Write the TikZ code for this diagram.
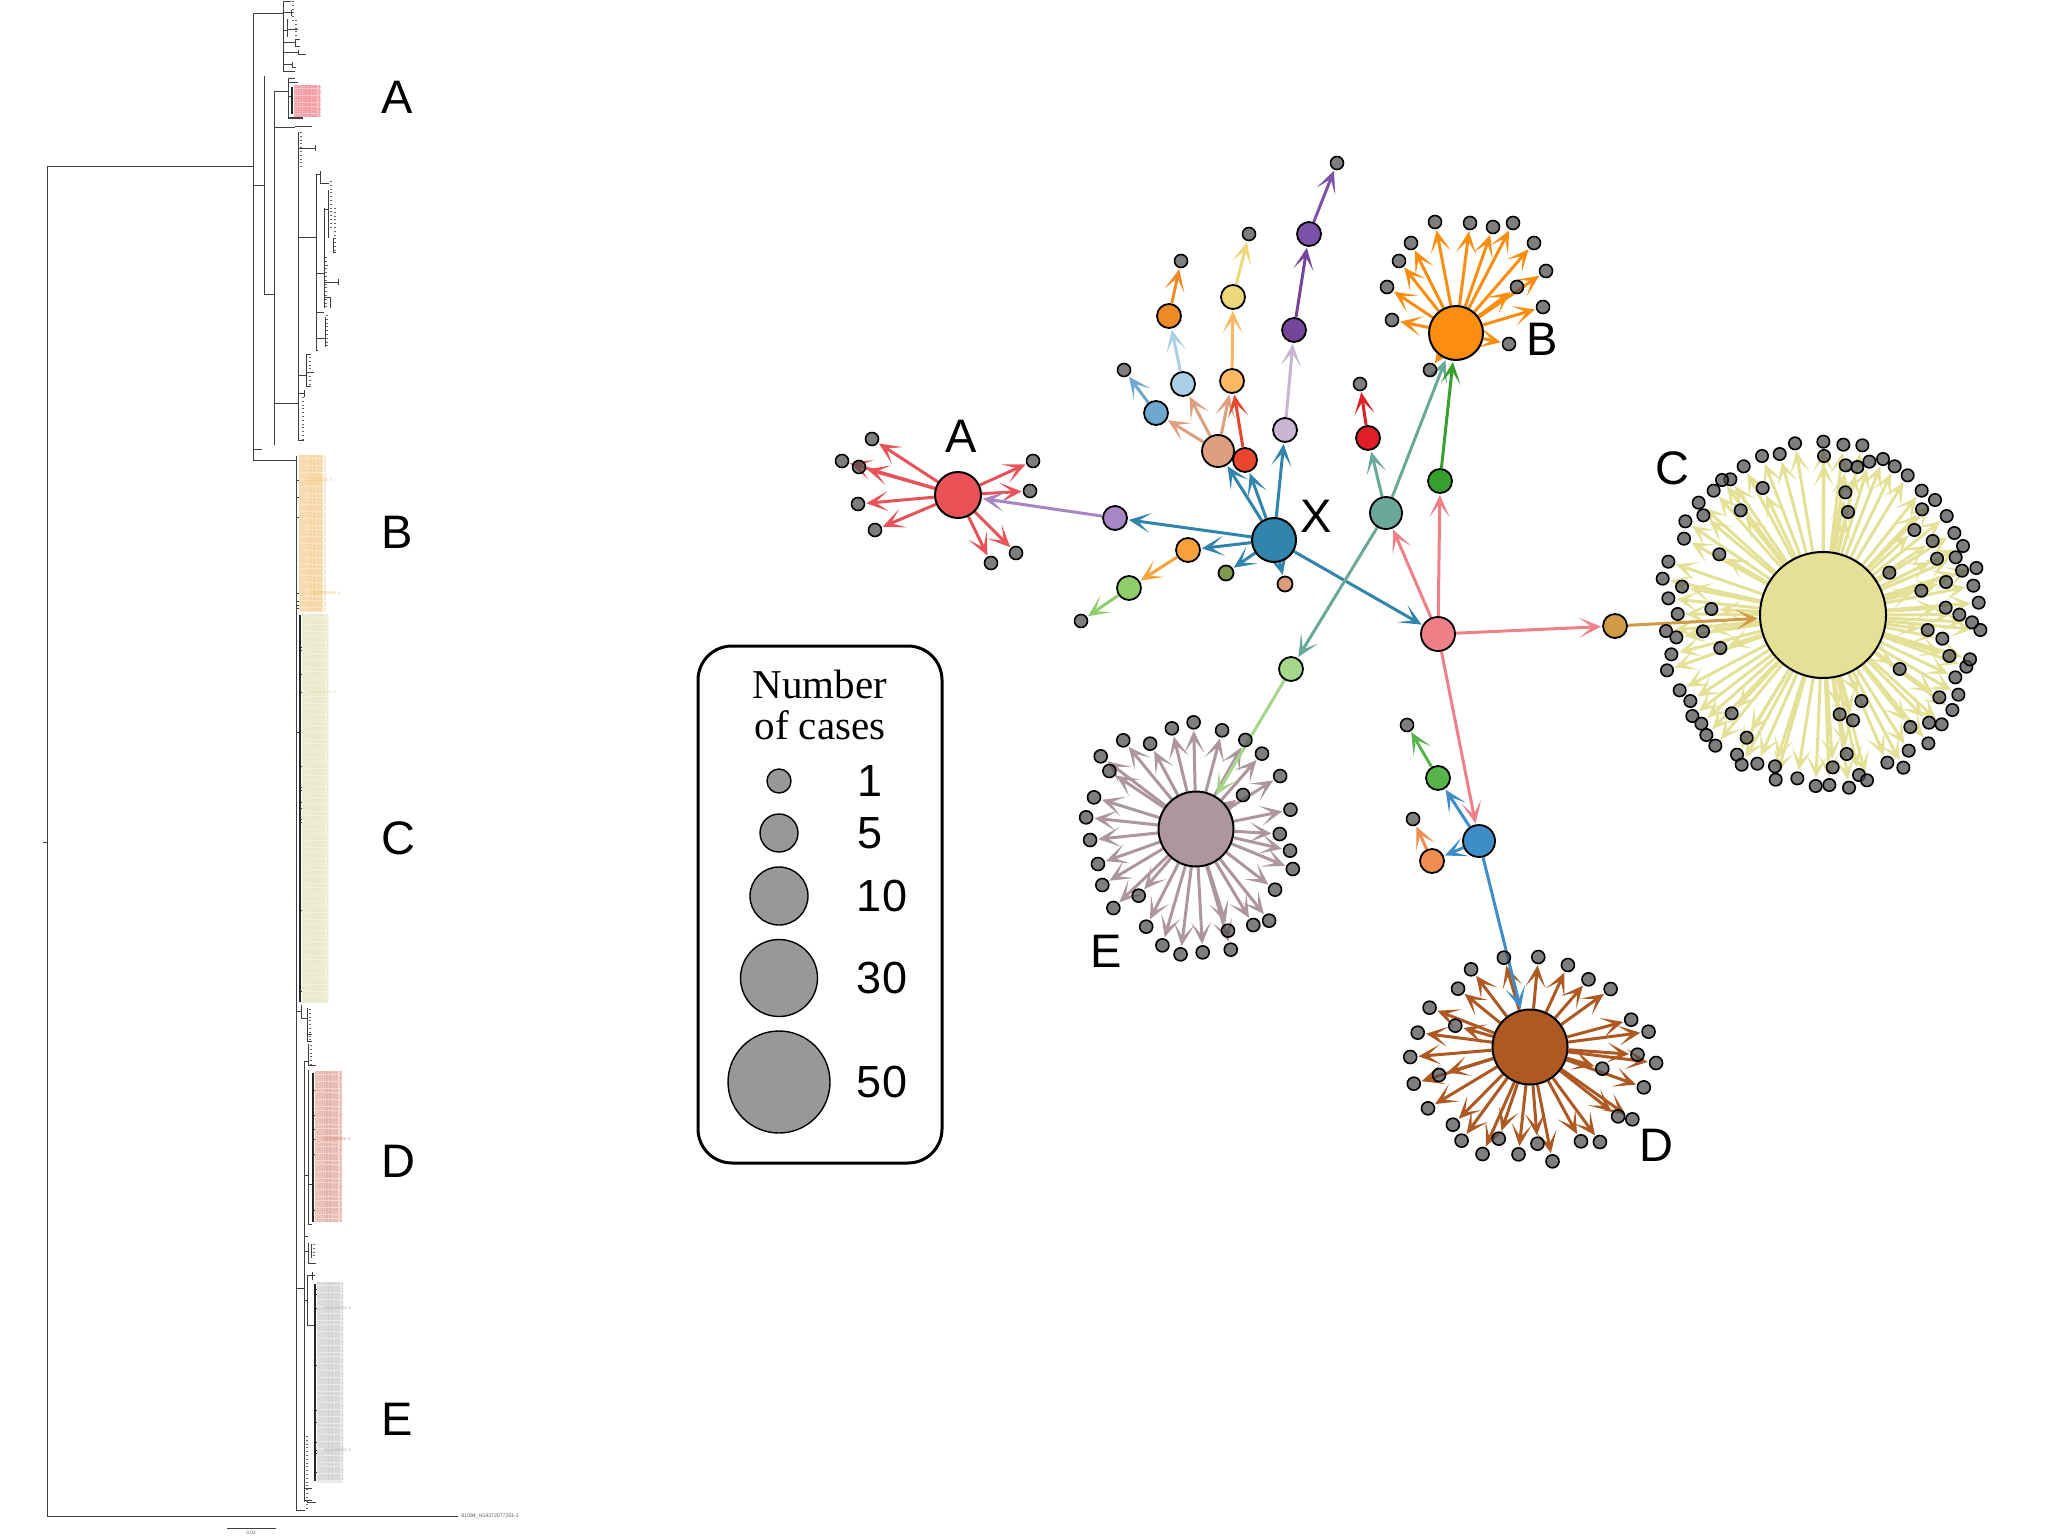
\documentclass[tikz,border=0pt]{standalone}
\usepackage{fontspec}
\setmainfont{Liberation Sans}
\newfontfamily\serifcap{Liberation Serif}
\usetikzlibrary{arrows.meta}
\pgfdeclarelayer{edges}
\pgfsetlayers{edges,main}
% hubs and single cases
\definecolor{hubA}{HTML}{E95358}
\definecolor{hubB}{HTML}{FB8D10}
\definecolor{hubC}{HTML}{E4E196}
\definecolor{hubD}{HTML}{AE5822}
\definecolor{hubE}{HTML}{AD979C}
\definecolor{hubX}{HTML}{3185AD}
\definecolor{cPurple}{HTML}{A686C4}
\definecolor{cOrange}{HTML}{F9A23C}
\definecolor{cLime}{HTML}{8ECE6B}
\definecolor{cOlive}{HTML}{7F9A4C}
\definecolor{cTan}{HTML}{DB9D7C}
\definecolor{cPeach}{HTML}{DE9F7F}
\definecolor{cRed}{HTML}{E8472E}
\definecolor{cLilac}{HTML}{C7B5D2}
\definecolor{cBlue}{HTML}{6EA8D0}
\definecolor{cSky}{HTML}{A9D0E6}
\definecolor{cApricot}{HTML}{FDB863}
\definecolor{cAmber}{HTML}{EF8A25}
\definecolor{cYellow}{HTML}{ECD77A}
\definecolor{cGrape}{HTML}{74459A}
\definecolor{cViolet}{HTML}{7C52A8}
\definecolor{cScarlet}{HTML}{E01F26}
\definecolor{cTeal}{HTML}{6AA99A}
\definecolor{cForest}{HTML}{35A02E}
\definecolor{cPink}{HTML}{F08088}
\definecolor{cMint}{HTML}{A6D68C}
\definecolor{cOchre}{HTML}{CF9B45}
\definecolor{cAzure}{HTML}{3F8DC8}
\definecolor{cGrass}{HTML}{57B34C}
\definecolor{cCoral}{HTML}{F08E52}
\definecolor{legGray}{HTML}{9A979A}
% tree label blocks
\definecolor{blkA}{HTML}{F9C3C8}
\definecolor{txtA}{HTML}{E8606A}
\definecolor{blkB}{HTML}{FBE6C6}
\definecolor{txtB}{HTML}{F4BC70}
\definecolor{blkC}{HTML}{F1F2DD}
\definecolor{txtC}{HTML}{DDDDB0}
\definecolor{blkD}{HTML}{F6D8D1}
\definecolor{txtD}{HTML}{CB8676}
\definecolor{blkE}{HTML}{EBEBEB}
\definecolor{txtE}{HTML}{B4B4B4}
\tikzset{
  casenode/.style 2 args={circle,draw=black,line width=0.9pt,inner sep=0pt,fill=#1,minimum size=#2pt},
  leaf/.style={circle,draw=black,line width=0.8pt,inner sep=0pt,fill=black!72,fill opacity=0.7,minimum size=6.5pt},
  legdot/.style={circle,draw=black,line width=0.7pt,inner sep=0pt,fill=legGray,minimum size=#1pt},
  edge/.style={draw=#1,line width=1.5pt,-{Stealth[length=11pt,width=10pt,inset=6.5pt]},shorten >=0.5pt},
  biglabel/.style={inner sep=0pt,font=\fontsize{23.5}{28}\selectfont},
  legnum/.style={inner sep=0pt,font=\fontsize{22.5}{27}\selectfont},
  branch/.style={draw=black!75,line width=0.5pt},
  tipdots/.style={draw=black!60,line width=0.6pt,dash pattern=on 0.5pt off 1.4pt},
  rowtxt/.style={anchor=west,inner sep=0pt,font=\fontsize{2.1}{2.5}\selectfont},
}
\begin{document}
\begin{tikzpicture}[x=0.5pt,y=-0.5pt]
  \useasboundingbox (0,0) rectangle (2048,1536);
  % tree: x / y from / y to
  \foreach \x/\ya/\yb in {47/166/1516, 253/14/460, 283/2/72, 291/10/16, 287/19/37, 295/40/47, 298/50/55, 292/62/68,
    264/76/294, 274/92/445, 288/79/118, 298/132/440, 315/145/151, 316/174/350, 320/171/183, 324/208/308, 328/190/238,
    333/238/252, 338/279/285, 330/297/308, 325/317/347, 306/354/386, 304/390/397, 296/456/1510, 301/1005/1018,
    307/1008/1041, 304/1061/1502, 308/1044/1065, 308/1070/1224, 308/1243/1263, 311/1244/1258, 307/1275/1325, 312/1272/1280}
    \draw[branch] (\x,\ya) -- (\x,\yb);
  % tree: y / x from / x to
  \foreach \y/\xa/\xb in {166/47/253, 1516/47/458, 842/43/47, 14/253/283, 2/283/291, 13/283/291, 31/283/287, 43/283/295,
    40/295/300, 47/295/300, 53/283/298, 55/298/306, 65/283/292, 68/292/296, 72/283/295, 30/287/298, 185/253/264, 294/264/274,
    92/274/288, 79/288/295, 83/288/298, 97/288/292, 118/288/303, 127/274/295, 126/295/312, 403/274/298, 148/298/315,
    237/298/316, 174/316/320, 183/320/329, 273/316/324, 209/324/328, 265/324/328, 282/324/338, 297/324/330, 252/333/336,
    312/316/324, 338/316/325, 350/316/318, 375/298/306, 354/306/311, 372/306/314, 386/306/311, 393/298/304, 440/298/304,
    449/253/262, 460/253/296, 480/296/305, 497/296/302, 517/296/302, 593/296/309, 601/296/304, 605/296/302, 608/296/301,
    732/296/300, 647/300/304, 650/300/304, 674/300/304, 692/300/309, 766/300/304, 787/300/309, 790/300/303, 802/300/304,
    808/300/304, 819/300/304, 822/300/304, 910/300/303, 991/300/304, 1011/296/301, 1018/301/307, 1034/307/312, 1041/307/312,
    1065/308/316, 1061/304/308, 1175/304/308, 1184/308/313, 1090/313/317, 1115/313/317, 1129/313/317, 1139/313/322, 1154/313/317,
    1210/313/317, 1224/308/312, 1236/304/308, 1251/304/308, 1263/308/316, 1288/296/304, 1300/304/307, 1275/307/315,
    1325/307/315, 1289/315/319, 1294/315/319, 1308/315/324, 1365/315/319, 1410/315/319, 1422/315/319, 1442/315/319,
    1450/315/324, 1453/315/319, 1472/315/319, 1488/304/312, 1500/304/312, 1502/307/316, 1510/296/305, 1528/227/276}
    \draw[branch] (\xa,\y) -- (\xb,\y);
  % thick stems beside the outbreak blocks
  \foreach \x/\ya/\yb in {292/87/114, 300/615/1002, 313/1073/1222, 315/1284/1481}
    \draw[branch,line width=0.8pt,draw=black!85] (\x,\ya) -- (\x,\yb);
  % unreadable tip labels
  \foreach \x/\ya/\yb in {293/1/22, 296/20/37, 301/132/167, 303/397/440, 331/181/230, 335/208/250, 326/257/308,
    327/315/347, 310/357/386, 310/1009/1041, 311/1045/1065, 314/1244/1258, 307/1436/1510}
    \draw[tipdots] (\x,\ya) -- (\x,\yb);
  % outbreak blocks: corner, corner, colour
  \foreach \xa/\ya/\xb/\yb/\col in {294/85/320/117/blkA, 299/455/323/612/blkB, 302/614/328/1003/blkC, 315/1071/342/1222/blkD, 317/1282/343/1483/blkE}
    \fill[\col] (\xa,\ya) rectangle (\xb,\yb);
  \foreach \r in {0,...,8} { \node[rowtxt,text=txtA] (rowA\r) at (294,{87+\r*3.6}) {OUTBREAK 5}; }
  \foreach \r in {0,...,43} { \node[rowtxt,text=txtB] (rowB\r) at (299,{457+\r*3.55}) {OUTBREAK 4}; }
  \foreach \r in {0,...,107} { \node[rowtxt,text=txtC] (rowC\r) at (302,{616+\r*3.6}) {OUTBREAK 3}; }
  \foreach \r in {0,...,41} { \node[rowtxt,text=txtD] (rowD\r) at (315,{1073+\r*3.6}) {OUTBREAK 2}; }
  \foreach \r in {0,...,55} { \node[rowtxt,text=txtE] (rowE\r) at (317,{1284+\r*3.55}) {OUTBREAK 1}; }
  % labels that stick out past the blocks
  \node[rowtxt,text=txtB] (tailB) at (313,593) {OUTBREAK 4};
  \node[rowtxt,text=txtB] (tailBb) at (305,480) {OUTBREAK 4};
  \node[rowtxt,text=txtC] (tailC) at (309,692) {OUTBREAK 3};
  \node[rowtxt,text=txtD] (tailD) at (323,1139) {OUTBREAK 2};
  \node[rowtxt,text=txtE] (tailE) at (324,1308) {OUTBREAK 1};
  \node[rowtxt,text=txtE] (tailEb) at (324,1450) {OUTBREAK 1};
  \node[rowtxt,text=black!65,font=\fontsize{2.6}{3}\selectfont] (outgroup) at (461,1516) {81094\_H14372077201-1};
  \node[rowtxt,anchor=center,text=black!65,font=\fontsize{2.4}{3}\selectfont] (scalelab) at (251,1533) {0.02};
  \foreach \t/\x/\y in {A/397/97, B/397/532, C/398/838, D/398/1161, E/397/1419}
    \node[biglabel] (tree\t) at (\x,\y) {\t};

  % legend
  \draw[black,line width=1.5pt,rounded corners=17pt] (698,646) rectangle (942,1163);
  \node[align=center,inner sep=0pt,font=\serifcap\fontsize{20.5}{20.5}\selectfont] (legtitle) at (820,705) {Number\\of cases};
  \foreach \k/\y/\sz/\x in {1/781/12/870, 5/833/19/870, 10/896/29/882, 30/978/38.5/882, 50/1082/51/882} {
    \node[legdot=\sz] (leg\k) at (779,\y) {};
    \node[legnum] (legnum\k) at (\x,\y) {\k};
  }

  % hubs
  \node[casenode={hubA}{23},line width=1pt] (hubA) at (958,495) {};
  \node[casenode={hubB}{27},line width=1pt] (hubB) at (1456,333) {};
  \node[casenode={hubC}{63},line width=1pt] (hubC) at (1823,615) {};
  \node[casenode={hubD}{37.5},line width=1pt] (hubD) at (1530,1047) {};
  \node[casenode={hubE}{37.5},line width=1pt] (hubE) at (1196,829) {};
  \node[casenode={hubX}{22},line width=1pt] (hubX) at (1274,540) {};
  % single cases between the hubs
  \foreach \name/\x/\y/\col/\sz in {purple/1115/518/cPurple/12, orange/1188/550/cOrange/12, lime/1129/588/cLime/12,
    olive/1226/573/cOlive/7.5, tan/1285/584/cTan/7.5, peach/1218/451/cPeach/16, red/1245/460/cRed/12, lilac/1285/430/cLilac/12,
    blue/1156/413/cBlue/12, sky/1183/384/cSky/12, apricot/1232/381/cApricot/12, amber/1169/316/cAmber/12, yellow/1233/297/cYellow/12,
    grape/1294/330/cGrape/12, violet/1309/234/cViolet/12, scarlet/1368/438/cScarlet/12, teal/1386/513/cTeal/16, forest/1440/481/cForest/12,
    pink/1438/634/cPink/17, mint/1291/669/cMint/12, ochre/1615/626/cOchre/12, azure/1479/841/cAzure/16, grass/1438/778/cGrass/12, coral/1432/861/cCoral/12}
    \node[casenode={\col}{\sz}] (\name) at (\x,\y) {};
  % leaves on the short chains
  \foreach \name/\x/\y in {lfLime/1081/621, lfBlue/1124/370, lfAmber/1181/261, lfYellow/1249/234, lfViolet/1337/163,
    lfScarlet/1360/384, lfGrass/1407/725, lfCoral/1413/819}
    \node[leaf] (\name) at (\x,\y) {};
  % leaves of the five clusters
  \foreach \x/\y [count=\i] in {872/439, 842/461, 859/467, 858/504, 875/530, 991/563, 1016/553, 1033/461, 1030/491}
    \node[leaf] (a\i) at (\x,\y) {};
  \foreach \x/\y [count=\i] in {1435/222, 1470/223, 1493/227, 1513/223, 1534/243, 1546/271, 1517/287, 1543/307, 1509/344,
    1430/370, 1392/320, 1387/287, 1399/261, 1411/243}
    \node[leaf] (b\i) at (\x,\y) {};
  % C and its ring, read off at 3 units per pixel from (1600,400)
  \foreach \x/\y [count=\i] in {670/125, 730/134, 787/136, 849/177, 808/185, 772/201, 737/196, 672/168, 585/130, 539/162, 486/168, 431/199,
    391/238, 366/240, 341/272, 296/308, 310/346, 256/364, 252/416, 205/485, 188/536, 246/560, 205/595, 233/642, 334/627, 198/693, 229/712,
    309/694, 214/763, 361/744, 201/811, 239/871, 271/903, 277/948, 304/971, 319/1005, 346/1037, 395/940, 440/1013, 411/1064, 425/1094,
    472/1091, 525/1099, 527/1139, 592/1135, 647/1158, 688/1155, 698/1102, 747/1163, 777/1125, 801/1141, 740/1062, 759/961, 719/943, 784/903,
    862/1088, 910/1103, 926/1052, 931/981, 985/1030, 987/968, 1025/973, 1057/930, 1075/884, 1018/892, 1066/832, 1099/800, 1110/778, 1048/768,
    899/807, 1027/716, 983/690, 1141/690, 1116/667, 1078/644, 1037/623, 1136/608, 1120/557, 1038/546, 964/572, 868/518, 1129/504, 1086/512,
    1067/472, 1011/476, 1089/438, 1063/399, 998/423, 1040/348, 943/390, 1005/300, 966/328, 965/272, 923/226, 884/199, 736/277, 744/336,
    488/264, 422/331, 358/463}
    \node[leaf,minimum size=6.2pt] (c\i) at ({1600+\x/3},{400+\y/3}) {};
  % D, read off at 2.53 per pixel from (1060,700)
  \foreach \x/\y [count=\i] in {1123/773, 1210/771, 1285/795, 1337/838, 1393/867, 1445/959, 1489/995, 1461/1064, 1508/1089, 1372/1106,
    1477/1162, 1412/1249, 1448/1258, 1366/1326, 1318/1324, 1246/1384, 1208/1331, 1160/1363, 1110/1316, 1069/1362, 1016/1322, 994/1274,
    931/1225, 959/1125, 895/1151, 886/1071, 1000/977, 905/998, 935/923, 1007/866, 1040/808}
    \node[leaf] (d\i) at ({1060+\x/2.53},{700+\y/3}) {};
  % E, same reading
  \foreach \x/\y [count=\i] in {338/67, 410/91, 469/120, 511/161, 557/228, 463/285, 583/329, 556/402, 582/452, 589/507, 544/569, 529/662,
    489/675, 425/692, 432/749, 361/757, 305/763, 259/736, 218/680, 199/587, 135/624, 107/555, 96/492, 76/420, 66/352, 86/292, 125/213,
    103/169, 160/121, 228/131, 283/85}
    \node[leaf] (e\i) at ({1060+\x/2.53},{700+\y/3}) {};

  \begin{pgfonlayer}{edges}
    \foreach \i in {1,...,9} { \draw[edge=hubA] (hubA) -- (a\i); }
    \foreach \i in {1,...,14} { \draw[edge=hubB] (hubB) -- (b\i); }
    \foreach \i in {1,...,100} { \draw[edge=hubC] (hubC) -- (c\i); }
    \foreach \i in {1,...,31} { \draw[edge=hubD] (hubD) -- (d\i); }
    \foreach \i in {1,...,31} { \draw[edge=hubE] (hubE) -- (e\i); }
    \foreach \from/\to/\col in {hubX/purple/hubX, purple/hubA/cPurple, hubX/orange/hubX, orange/lime/cOrange, lime/lfLime/cLime,
      hubX/olive/hubX, hubX/tan/hubX, hubX/peach/hubX, hubX/red/hubX, hubX/lilac/hubX, peach/blue/cPeach, peach/sky/cPeach, peach/apricot/cPeach,
      red/apricot/cRed, blue/lfBlue/cBlue, sky/amber/cSky, amber/lfAmber/cAmber, apricot/yellow/cApricot, yellow/lfYellow/cYellow,
      lilac/grape/cLilac, grape/violet/cGrape, violet/lfViolet/cViolet, hubX/pink/hubX, pink/teal/cPink, pink/forest/cPink, pink/ochre/cPink,
      pink/azure/cPink, teal/scarlet/cTeal, scarlet/lfScarlet/cScarlet, teal/hubB/cTeal, teal/mint/cTeal, forest/hubB/cForest, mint/hubE/cMint,
      ochre/hubC/cOchre, azure/hubD/cAzure, azure/grass/cAzure, azure/coral/cAzure, grass/lfGrass/cGrass, coral/lfCoral/cCoral}
      \draw[edge=\col] (\from) -- (\to);
  \end{pgfonlayer}

  \foreach \t/\x/\y in {A/961/436, X/1316/516, B/1542/339, C/1672/468, D/1656/1145, E/1106/951}
    \node[biglabel] (net\t) at (\x,\y) {\t};
\end{tikzpicture}
\end{document}
